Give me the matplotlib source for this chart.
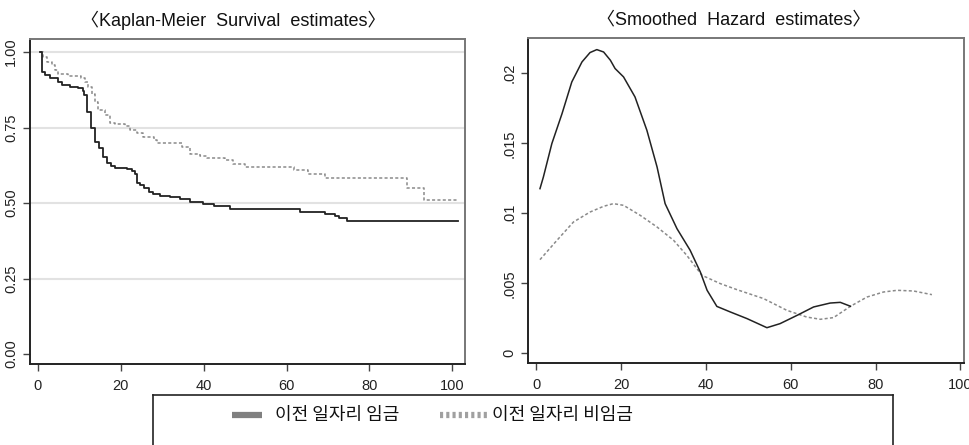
import matplotlib
matplotlib.use('Agg')
import matplotlib.pyplot as plt
from matplotlib.lines import Line2D

plt.rcParams['font.family'] = ['Noto Sans CJK KR', 'DejaVu Sans']

# Kaplan-Meier: 이전 일자리 임금 (solid)
km_wage_t = [0.6, 0.9, 1.7, 2.9, 4.9, 5.7, 7.7, 9.7, 10.8, 11.1, 11.9, 12.7, 13.8, 14.8,
             15.8, 16.6, 17.6, 18.6, 21.4, 22.6, 23.4, 23.8, 24.7, 25.7, 26.7, 27.7,
             29.5, 31.9, 34.3, 36.7, 39.9, 42.4, 46.4, 63.3, 69.3, 71.8, 72.6, 74.7, 101.5]
km_wage_s = [1.0, 0.935, 0.924, 0.913, 0.902, 0.891, 0.885, 0.880, 0.872, 0.858, 0.802,
             0.749, 0.703, 0.681, 0.653, 0.633, 0.624, 0.617, 0.613, 0.607, 0.596, 0.567,
             0.560, 0.549, 0.537, 0.530, 0.524, 0.521, 0.515, 0.502, 0.497, 0.490, 0.480,
             0.471, 0.464, 0.457, 0.449, 0.440, 0.440]

# Kaplan-Meier: 이전 일자리 비임금 (dotted)
km_non_t = [0.6, 1.3, 2.1, 3.3, 4.1, 4.9, 7.3, 10.5, 11.4, 12.2, 13.0, 13.8, 14.6, 16.2,
            17.4, 18.6, 21.0, 22.2, 23.8, 25.4, 27.9, 28.7, 34.7, 36.7, 39.1, 40.7, 45.2,
            47.2, 50.0, 61.7, 65.3, 69.3, 89.0, 93.2, 101.5]
km_non_s = [1.0, 0.984, 0.968, 0.957, 0.940, 0.927, 0.921, 0.916, 0.902, 0.883, 0.860,
            0.836, 0.808, 0.791, 0.766, 0.762, 0.755, 0.742, 0.731, 0.720, 0.709, 0.698,
            0.686, 0.664, 0.656, 0.648, 0.642, 0.631, 0.620, 0.609, 0.596, 0.582, 0.549,
            0.510, 0.510]

# smoothed hazard
hz_wage_t = [0.9, 1.7, 3.7, 6.1, 8.4, 10.8, 12.7, 14.3, 15.9, 17.5, 18.6, 20.6, 23.3,
             26.1, 28.5, 30.4, 33.2, 36.3, 38.7, 40.3, 42.6, 45.8, 49.7, 54.4, 57.5,
             61.5, 65.4, 69.3, 71.7, 74.1]
hz_wage_h = [0.01176, 0.01259, 0.01498, 0.01712, 0.01938, 0.02081, 0.02148, 0.02169,
             0.02152, 0.02093, 0.02034, 0.01974, 0.01831, 0.01593, 0.01331, 0.01069,
             0.00890, 0.00736, 0.00581, 0.00450, 0.00335, 0.00295, 0.00248, 0.00183,
             0.00212, 0.00271, 0.00331, 0.00359, 0.00364, 0.00336]

hz_non_t = [0.9, 4.9, 8.8, 12.7, 15.9, 18.2, 20.6, 24.5, 28.5, 32.4, 35.5, 39.1, 43.4,
            47.3, 53.6, 59.1, 63.8, 67.0, 70.1, 74.1, 78.0, 81.9, 85.1, 89.0, 93.3]
hz_non_h = [0.00669, 0.00807, 0.00938, 0.01009, 0.0105, 0.01069, 0.01057, 0.00986,
            0.00902, 0.00807, 0.0070, 0.00557, 0.00498, 0.00455, 0.00391, 0.00307,
            0.00259, 0.00243, 0.00255, 0.00336, 0.00402, 0.00438, 0.0045, 0.00445, 0.00419]

labels = ['이전 일자리 임금', '이전 일자리 비임금']
titles = ['〈Kaplan-Meier  Survival  estimates〉', '〈Smoothed  Hazard  estimates〉']
x_ticks = [0, 20, 40, 60, 80, 100]

fig = plt.figure(figsize=(9.69, 4.45), dpi=100)
ax1 = fig.add_axes([0.031, 0.182, 0.449, 0.730])
ax2 = fig.add_axes([0.545, 0.184, 0.450, 0.730])

tick_family = ['Liberation Sans Narrow', 'Liberation Sans', 'DejaVu Sans']
tick_size = 10.5

# left panel
for g in [0.25, 0.5, 0.75, 1.0]:
    ax1.axhline(g, color='#e2e2e2', lw=1.5, zorder=0)
ax1.step(km_non_t, km_non_s, where='post', color='#8a8a8a', lw=1.1, ls=(0, (2, 1.5)))
ax1.step(km_wage_t, km_wage_s, where='post', color='#222222', lw=1.3)
ax1.set_xlim(-1.9, 103.1)
ax1.set_ylim(-0.033, 1.043)
ax1.set_yticks([0, 0.25, 0.5, 0.75, 1.0])
ax1.set_yticklabels(['0.00', '0.25', '0.50', '0.75', '1.00'])

# right panel
ax2.plot(hz_non_t, hz_non_h, color='#8a8a8a', lw=1.1, ls=(0, (2, 1.5)))
ax2.plot(hz_wage_t, hz_wage_h, color='#222222', lw=1.1)
ax2.set_xlim(-1.9, 100.9)
ax2.set_ylim(-0.0007, 0.0225)
ax2.set_yticks([0, 0.005, 0.01, 0.015, 0.02])
ax2.set_yticklabels(['0', '.005', '.01', '.015', '.02'])

for ax in (ax1, ax2):
    for side in ('left', 'bottom'):
        ax.spines[side].set_color('#222222')
        ax.spines[side].set_linewidth(1.4)
    for side in ('top', 'right'):
        ax.spines[side].set_color('#777777')
        ax.spines[side].set_linewidth(1.4)
    ax.tick_params(direction='out', length=5, color='#444444', width=1)
    ax.tick_params(axis='x', pad=6)
    ax.set_xticks(x_ticks)
    ax.set_xticklabels([str(v) for v in x_ticks])
    for lab in ax.get_xticklabels() + ax.get_yticklabels():
        lab.set_fontfamily(tick_family)
        lab.set_fontsize(tick_size)
        lab.set_color('#222222')
    for lab in ax.get_yticklabels():
        lab.set_rotation(90)
        lab.set_va('center')

title_family = ['Liberation Sans', 'Noto Sans CJK KR']
fig.text(0.241, 0.955, titles[0], ha='center', va='center', fontsize=13,
         family=title_family, color='#111111')
fig.text(0.757, 0.955, titles[1], ha='center', va='center', fontsize=13,
         family=title_family, color='#111111')

# legend box (bottom edge cut off by the figure)
box_l, box_r, box_t = 0.158, 0.922, 0.112
for xs, ys in [([box_l, box_l], [0, box_t]), ([box_l, box_r], [box_t, box_t]),
               ([box_r, box_r], [box_t, 0])]:
    fig.add_artist(Line2D(xs, ys, transform=fig.transFigure, color='#222222', lw=1.2))

leg_y = 0.067
fig.add_artist(Line2D([0.2394, 0.2704], [leg_y, leg_y], transform=fig.transFigure,
                      color='#808080', lw=4.5, solid_capstyle='butt'))
fig.text(0.2838, leg_y, labels[0], ha='left', va='center', fontsize=13, color='#111111')
fig.add_artist(Line2D([0.454, 0.5026], [leg_y, leg_y], transform=fig.transFigure,
                      color='#a0a0a0', lw=4.5, ls=(0, (0.5, 0.5)), dash_capstyle='butt'))
fig.text(0.5075, leg_y, labels[1], ha='left', va='center', fontsize=13, color='#111111')

fig.savefig('out.png', dpi=100)
